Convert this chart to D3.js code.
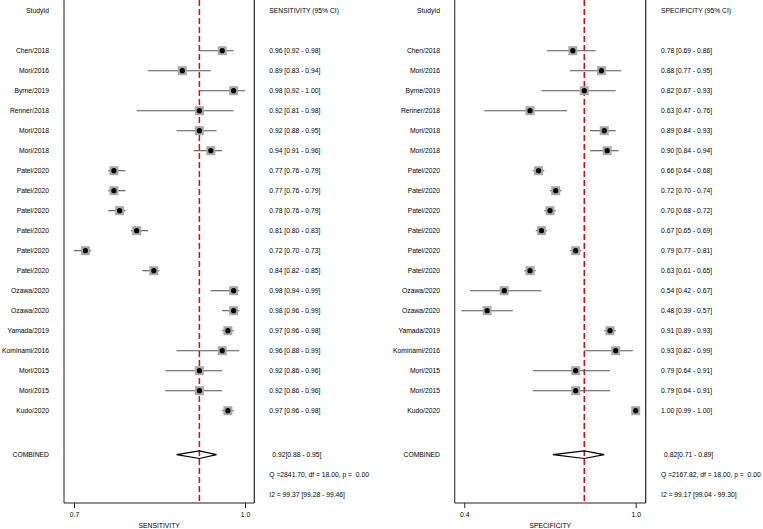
<!DOCTYPE html>
<html><head><meta charset="utf-8">
<script src="https://cdn.jsdelivr.net/npm/d3@7"></script>
<style>
body{margin:0;background:#fff;}
svg text{font-family:"Liberation Sans",Arial,sans-serif;fill:#000;white-space:pre;}
</style></head>
<body><svg id="c" width="763" height="529"></svg>
<script>
const studies = ["Chen/2018","Mori/2016","Byrne/2019","Renner/2018","Mori/2018","Mori/2018","Patel/2020","Patel/2020","Patel/2020","Patel/2020","Patel/2020","Patel/2020","Ozawa/2020","Ozawa/2020","Yamada/2019","Kominami/2016","Mori/2015","Mori/2015","Kudo/2020"];
const sensEst = [0.96,0.89,0.98,0.92,0.92,0.94,0.77,0.77,0.78,0.81,0.72,0.84,0.98,0.98,0.97,0.96,0.92,0.92,0.97];
const sensLo  = [0.92,0.83,0.92,0.81,0.88,0.91,0.76,0.76,0.76,0.80,0.70,0.82,0.94,0.96,0.96,0.88,0.86,0.86,0.96];
const sensHi  = [0.98,0.94,1.00,0.98,0.95,0.96,0.79,0.79,0.79,0.83,0.73,0.85,0.99,0.99,0.98,0.99,0.96,0.96,0.98];
const specEst = [0.78,0.88,0.82,0.63,0.89,0.90,0.66,0.72,0.70,0.67,0.79,0.63,0.54,0.48,0.91,0.93,0.79,0.79,1.00];
const specLo  = [0.69,0.77,0.67,0.47,0.84,0.84,0.64,0.70,0.68,0.65,0.77,0.61,0.42,0.39,0.89,0.82,0.64,0.64,0.99];
const specHi  = [0.86,0.95,0.93,0.76,0.93,0.94,0.68,0.74,0.72,0.69,0.81,0.65,0.67,0.57,0.93,0.99,0.91,0.91,1.00];
const sensCombined = [0.92,0.88,0.95];
const specCombined = [0.82,0.71,0.89];
const sensStats = ["Q =2841.70, df = 18.00, p =  0.00","I2 = 99.37 [99.28 - 99.46]"];
const specStats = ["Q =2167.82, df = 18.00, p =  0.00","I2 = 99.17 [99.04 - 99.30]"];
const sensTicks = [0.7,1.0];
const specTicks = [0.4,1.0];

const svg = d3.select("#c");
const y = d3.scaleLinear().domain([0,18]).range([50.7,410.7]);
const fmt = d3.format(".2f");

function panel(opt){
  const g = svg.append("g");
  const x = d3.scaleLinear().domain(opt.domain).range(opt.range);
  const fs = 6.75;
  // header
  g.append("text").attr("x",opt.labelX).attr("y",y(-2)).attr("dy","0.35em").attr("text-anchor","end").attr("font-size",fs).text("StudyId");
  g.append("text").attr("x",opt.valX).attr("y",y(-2)).attr("dy","0.35em").attr("font-size",fs).text(opt.title+" (95% CI)");
  // frame
  g.append("line").attr("x1",opt.frame[0]).attr("x2",opt.frame[0]).attr("y1",0).attr("y2",503).attr("stroke","#444").attr("stroke-width",1.2);
  g.append("line").attr("x1",opt.frame[1]).attr("x2",opt.frame[1]).attr("y1",0).attr("y2",503).attr("stroke","#222").attr("stroke-width",1.2);
  g.append("line").attr("x1",opt.frame[0]).attr("x2",opt.frame[1]).attr("y1",503).attr("y2",503).attr("stroke","#222").attr("stroke-width",1.2);
  // axis
  const ax = g.append("g").attr("transform","translate(0,503)")
    .call(d3.axisBottom(x).tickValues(opt.ticks).tickFormat(d3.format(".1f")).tickSize(5).tickPadding(4));
  ax.select(".domain").remove();
  ax.selectAll(".tick line").attr("stroke","#222");
  ax.selectAll("text").attr("font-size",fs).attr("font-family","Liberation Sans, Arial, sans-serif").attr("fill","#000");
  g.append("text").attr("x",(opt.frame[0]+opt.frame[1])/2).attr("y",527.5).attr("text-anchor","middle").attr("font-size",fs).text(opt.title);
  // red line
  g.append("line").attr("x1",x(opt.comb[0])).attr("x2",x(opt.comb[0])).attr("y1",0).attr("y2",503)
    .attr("stroke","#d01010").attr("stroke-width",1.5).attr("stroke-dasharray","6,3");
  // rows
  const rows = studies.map((s,i)=>({s,i,e:opt.est[i],lo:opt.lo[i],hi:opt.hi[i]}));
  g.selectAll(".lab").data(rows).join("text").attr("x",opt.labelX).attr("y",d=>y(d.i)).attr("dy","0.35em")
    .attr("text-anchor","end").attr("font-size",fs).text(d=>d.s);
  g.selectAll(".val").data(rows).join("text").attr("x",opt.valX).attr("y",d=>y(d.i)).attr("dy","0.35em")
    .attr("font-size",fs).text(d=>`${fmt(d.e)} [${fmt(d.lo)} - ${fmt(d.hi)}]`);
  g.selectAll(".ci").data(rows).join("line").attr("x1",d=>x(d.lo)).attr("x2",d=>x(d.hi))
    .attr("y1",d=>y(d.i)).attr("y2",d=>y(d.i)).attr("stroke","#555").attr("stroke-width",1.1);
  g.selectAll(".box").data(rows).join("rect").attr("x",d=>x(d.e)-4.5).attr("y",d=>y(d.i)-4.5)
    .attr("width",9).attr("height",9).attr("fill","#a9a9a9");
  g.selectAll(".dot").data(rows).join("circle").attr("cx",d=>x(d.e)).attr("cy",d=>y(d.i)).attr("r",2.6).attr("fill","#000");
  // combined
  const cy = y(20.2);
  g.append("text").attr("x",opt.labelX).attr("y",cy).attr("dy","0.35em").attr("text-anchor","end").attr("font-size",fs).text("COMBINED");
  const c = opt.comb, h = 3.8;
  g.append("path").attr("d",`M${x(c[1])},${cy}L${x(c[0])},${cy-h}L${x(c[2])},${cy}L${x(c[0])},${cy+h}Z`)
    .attr("fill","none").attr("stroke","#000").attr("stroke-width",1.2);
  g.append("text").attr("x",opt.valX+3).attr("y",cy).attr("dy","0.35em").attr("font-size",fs)
    .text(`${fmt(c[0])}[${fmt(c[1])} - ${fmt(c[2])}]`);
  g.append("text").attr("x",opt.valX).attr("y",y(21.2)).attr("dy","0.35em").attr("font-size",fs).text(opt.stats[0]);
  g.append("text").attr("x",opt.valX).attr("y",y(22.2)).attr("dy","0.35em").attr("font-size",fs).text(opt.stats[1]);
}

panel({domain:[0.7,1.0],range:[74,245],frame:[64,254.3],ticks:sensTicks,labelX:49,valX:269.3,title:"SENSITIVITY",
  est:sensEst,lo:sensLo,hi:sensHi,comb:sensCombined,stats:sensStats});
panel({domain:[0.4,1.0],range:[464.3,635.7],frame:[454.7,645.7],ticks:specTicks,labelX:440,valX:661,title:"SPECIFICITY",
  est:specEst,lo:specLo,hi:specHi,comb:specCombined,stats:specStats});
</script></body></html>
